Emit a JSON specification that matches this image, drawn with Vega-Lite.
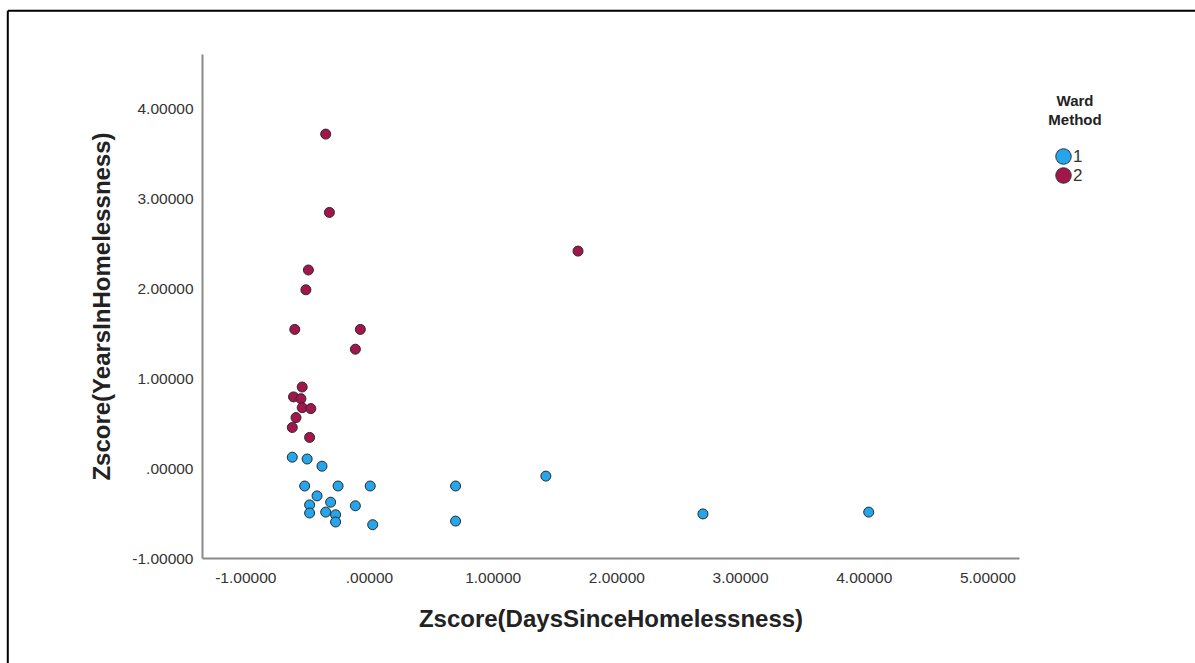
{
  "$schema": "https://vega.github.io/schema/vega-lite/v6.json",
  "autosize": {"type": "none"},
  "width": 817,
  "height": 504,
  "padding": {"left": 202, "top": 54, "right": 176, "bottom": 105},
  "background": "white",
  "config": {
    "view": {"stroke": null},
    "font": "Liberation Sans"
  },
  "datasets": {
    "frame": [{"part": "frame"}],
    "pts": [
      {"days": -0.35, "years": 3.71, "cluster": "2"},
      {"days": -0.32, "years": 2.84, "cluster": "2"},
      {"days": 1.69, "years": 2.41, "cluster": "2"},
      {"days": -0.49, "years": 2.20, "cluster": "2"},
      {"days": -0.51, "years": 1.98, "cluster": "2"},
      {"days": -0.60, "years": 1.54, "cluster": "2"},
      {"days": -0.07, "years": 1.54, "cluster": "2"},
      {"days": -0.11, "years": 1.32, "cluster": "2"},
      {"days": -0.54, "years": 0.90, "cluster": "2"},
      {"days": -0.61, "years": 0.79, "cluster": "2"},
      {"days": -0.55, "years": 0.77, "cluster": "2"},
      {"days": -0.54, "years": 0.67, "cluster": "2"},
      {"days": -0.47, "years": 0.66, "cluster": "2"},
      {"days": -0.59, "years": 0.56, "cluster": "2"},
      {"days": -0.62, "years": 0.45, "cluster": "2"},
      {"days": -0.48, "years": 0.34, "cluster": "2"},
      {"days": -0.62, "years": 0.12, "cluster": "1"},
      {"days": -0.50, "years": 0.10, "cluster": "1"},
      {"days": -0.38, "years": 0.02, "cluster": "1"},
      {"days": -0.52, "years": -0.20, "cluster": "1"},
      {"days": -0.25, "years": -0.20, "cluster": "1"},
      {"days": 0.01, "years": -0.20, "cluster": "1"},
      {"days": -0.42, "years": -0.31, "cluster": "1"},
      {"days": -0.48, "years": -0.41, "cluster": "1"},
      {"days": -0.31, "years": -0.38, "cluster": "1"},
      {"days": -0.11, "years": -0.42, "cluster": "1"},
      {"days": -0.48, "years": -0.50, "cluster": "1"},
      {"days": -0.35, "years": -0.49, "cluster": "1"},
      {"days": -0.27, "years": -0.52, "cluster": "1"},
      {"days": -0.27, "years": -0.60, "cluster": "1"},
      {"days": 0.03, "years": -0.63, "cluster": "1"},
      {"days": 0.70, "years": -0.20, "cluster": "1"},
      {"days": 0.70, "years": -0.59, "cluster": "1"},
      {"days": 1.43, "years": -0.09, "cluster": "1"},
      {"days": 2.70, "years": -0.51, "cluster": "1"},
      {"days": 4.04, "years": -0.49, "cluster": "1"}
    ]
  },
  "layer": [
    {
      "data": {"name": "frame"},
      "mark": {"type": "rule", "color": "black", "strokeWidth": 2, "clip": false},
      "encoding": {
        "x": {"datum": -2.92, "type": "quantitative"},
        "x2": {"datum": 7.0},
        "y": {"datum": 5.08, "type": "quantitative"}
      }
    },
    {
      "data": {"name": "frame"},
      "mark": {"type": "rule", "color": "black", "strokeWidth": 2, "clip": false},
      "encoding": {
        "x": {"datum": -2.92, "type": "quantitative"},
        "y": {"datum": 5.08, "type": "quantitative"},
        "y2": {"datum": -3.0}
      }
    },
    {
      "data": {"name": "pts"},
      "mark": {"type": "point", "filled": true, "shape": "circle", "size": 100, "stroke": "#2a2a2a", "strokeWidth": 1, "opacity": 1},
      "encoding": {
        "x": {
          "field": "days", "type": "quantitative",
          "scale": {"domain": [-1.35, 5.255], "nice": false, "zero": false},
          "axis": {
            "title": "Zscore(DaysSinceHomelessness)",
            "values": [-1, 0, 1, 2, 3, 4, 5],
            "labelExpr": "datum.value == 0 ? '.00000' : replace(format(datum.value, '.5f'), '\u2212', '-')",
            "grid": false, "ticks": false,
            "domainColor": "#8a8a8a", "domainWidth": 2,
            "labelFontSize": 15.5, "labelColor": "#333333", "labelPadding": 12,
            "titleFontSize": 24, "titleFontWeight": "bold", "titleColor": "#222222", "titlePadding": 22
          }
        },
        "y": {
          "field": "years", "type": "quantitative",
          "scale": {"domain": [-1, 4.6], "nice": false, "zero": false},
          "axis": {
            "title": "Zscore(YearsInHomelessness)",
            "values": [-1, 0, 1, 2, 3, 4],
            "labelExpr": "datum.value == 0 ? '.00000' : replace(format(datum.value, '.5f'), '\u2212', '-')",
            "grid": false, "ticks": false,
            "domainColor": "#8a8a8a", "domainWidth": 2,
            "labelFontSize": 15.5, "labelColor": "#333333", "labelPadding": 9,
            "titleFontSize": 24, "titleFontWeight": "bold", "titleColor": "#222222", "titlePadding": 17
          }
        },
        "fill": {
          "field": "cluster", "type": "nominal",
          "scale": {"domain": ["1", "2"], "range": ["#25A6EC", "#A3164C"]},
          "legend": {
            "title": ["Ward", "Method"],
            "orient": "none", "legendX": 846, "legendY": 40,
            "titleAnchor": "middle", "titleAlign": "center",
            "titleFontSize": 15, "titleFontWeight": "bold", "titleColor": "#222222", "titleLineHeight": 19,
            "titlePadding": 20,
            "symbolType": "circle", "symbolSize": 240, "symbolStrokeColor": "#333333", "symbolStrokeWidth": 1,
            "symbolOffset": -12,
            "labelFontSize": 17, "labelColor": "#333333", "labelOffset": 1, "rowPadding": -2
          }
        }
      }
    }
  ]
}
